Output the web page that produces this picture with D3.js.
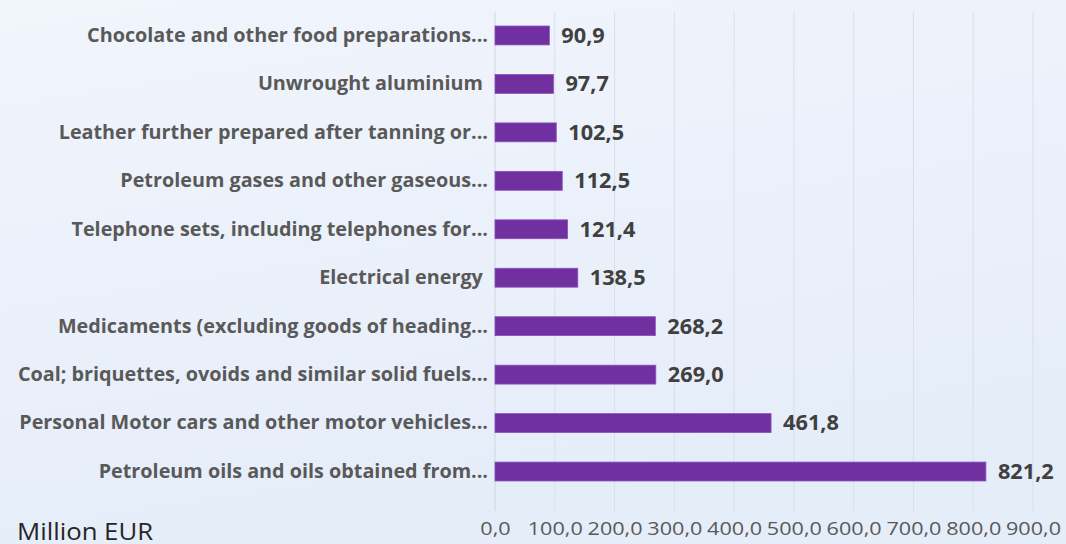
<!DOCTYPE html>
<html>
<head>
  <meta charset="utf-8">
  <script src="https://d3js.org/d3.v7.min.js"></script>
  <style>
    html, body { margin: 0; padding: 0; }
    body { width: 1066px; height: 544px; overflow: hidden; }
    text { font-family: "Open Sans", Lato, sans-serif; white-space: pre; }
    .cat text { font-weight: bold; fill: #595959; font-size: 19.8px; }
    .val { font-weight: bold; fill: #404040; font-size: 20.5px; }
    .xaxis text { fill: #595959; font-size: 18.5px; }
  </style>
</head>
<body>
  <svg id="chart" width="1066" height="544"></svg>
  <script>
    // categories, top to bottom
    var categories = [
      "Chocolate and other food preparations...",
      "Unwrought aluminium ",
      "Leather further prepared after tanning or...",
      "Petroleum gases and other gaseous...",
      "Telephone sets, including telephones for...",
      "Electrical energy ",
      "Medicaments (excluding goods of heading...",
      "Coal; briquettes, ovoids and similar solid fuels...",
      "Personal Motor cars and other motor vehicles...",
      "Petroleum oils and oils obtained from..."
    ];
    var values = [90.9, 97.7, 102.5, 112.5, 121.4, 138.5, 268.2, 269.0, 461.8, 821.2];
    var xTicks = [0, 100, 200, 300, 400, 500, 600, 700, 800, 900];
    var unitLabel = "Million EUR";

    var fmt = function (v) { return v.toFixed(1).replace(".", ","); };

    var svg = d3.select("#chart");

    // background gradient
    var defs = svg.append("defs");
    var grad = defs.append("linearGradient").attr("id", "bg")
      .attr("x1", "0").attr("y1", "0").attr("x2", "0.3").attr("y2", "1");
    grad.append("stop").attr("offset", "0").attr("stop-color", "#f1f5fc");
    grad.append("stop").attr("offset", "1").attr("stop-color", "#e5edf9");
    svg.append("rect").attr("width", 1066).attr("height", 544).attr("fill", "url(#bg)");

    var x = d3.scaleLinear().domain([0, 900]).range([495, 1033]);
    var y = d3.scaleBand().domain(categories).range([11, 496]).paddingInner(0.61).paddingOuter(0.31);

    // gridlines
    svg.append("g").selectAll("line")
      .data(xTicks)
      .enter().append("line")
      .attr("x1", function (d) { return x(d); })
      .attr("x2", function (d) { return x(d); })
      .attr("y1", 12).attr("y2", 511)
      .attr("stroke", function (d) { return d === 0 ? "#cfd5dd" : "#d9dfe8"; })
      .attr("stroke-width", 1);

    // x axis labels (reference text is a little stretched sideways)
    var xAxis = d3.axisBottom(x).tickValues(xTicks).tickFormat(fmt).tickSize(0).tickPadding(0);
    var gx = svg.append("g").attr("class", "xaxis")
      .attr("transform", "translate(0,535)")
      .call(xAxis);
    gx.select(".domain").remove();
    gx.selectAll("text").attr("y", 0).attr("dy", 0)
      .attr("transform", "scale(1.17,1)")
      .style("font-family", null);

    // category labels
    var yAxis = d3.axisLeft(y).tickSize(0).tickPadding(0);
    var gy = svg.append("g").attr("class", "cat")
      .attr("transform", "translate(488,0)")
      .call(yAxis);
    gy.select(".domain").remove();
    gy.selectAll("text").style("font-family", null);

    // bars
    svg.append("g").selectAll("rect")
      .data(values)
      .enter().append("rect")
      .attr("x", x(0))
      .attr("y", function (d, i) { return y(categories[i]); })
      .attr("width", function (d) { return x(d) - x(0); })
      .attr("height", y.bandwidth())
      .attr("fill", "#7030a0")
      .attr("stroke", "#8a4fc0")
      .attr("stroke-width", 0.8);

    // value labels
    svg.append("g").selectAll("text")
      .data(values)
      .enter().append("text")
      .attr("class", "val")
      .attr("transform", function (d, i) {
        return "translate(" + (x(d) + 12) + "," + (y(categories[i]) + y.bandwidth() / 2) + ") scale(1.06,1)";
      })
      .attr("dy", "0.36em")
      .text(fmt);

    svg.append("text")
      .attr("transform", "translate(17,540) scale(1.12,1)")
      .attr("fill", "#262626")
      .style("font-size", "23px")
      .text(unitLabel);
  </script>
</body>
</html>
